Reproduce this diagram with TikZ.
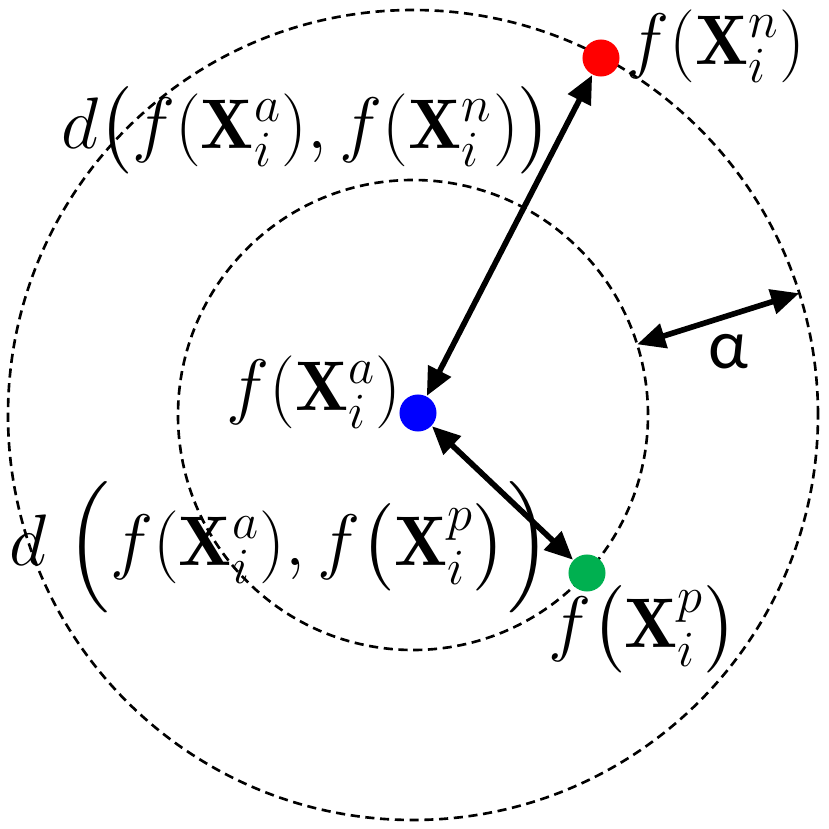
\documentclass[tikz,border=0pt]{standalone}
\usepackage{amsmath}
\usepackage{exscale}
\usepackage{fontspec}
\newfontfamily\greekfont{Carlito}
\usetikzlibrary{arrows.meta,calc}
\definecolor{posgreen}{RGB}{0,176,80}
\begin{document}
\begin{tikzpicture}[x=0.01cm,y=0.01cm,
    ring/.style={dash pattern=on 2.6pt off 1.6pt, line width=0.75pt},
    dot/.style={circle, inner sep=0pt, minimum size=0.37cm},
    link/.style={line width=1.6pt, {Triangle[length=8pt,width=7pt]}-{Triangle[length=8pt,width=7pt]}},
    lbl/.style={font=\fontsize{20}{22}\selectfont, inner sep=0pt}]
    \useasboundingbox (0,0) rectangle (829,829);
    \coordinate (c) at (413,414);
    \draw[ring] (c) circle (405);
    \draw[ring] (c) circle (235);
    % points
    \node[dot, fill=blue] (anc) at (418,416) {};
    \node[dot, fill=red] (neg) at (601,771) {};
    \node[dot, fill=posgreen] (pos) at (587,256) {};
    % margin
    \coordinate (inr) at ($(c)+(17.5:235)$);
    \coordinate (outr) at ($(c)+(17.5:405)$);
    \draw[link] (anc) -- (neg);
    \draw[link] (anc) -- (pos);
    \draw[link] (inr) -- (outr);
    % labels
    \node[lbl] (negl) at (716,783) {$f(\mathbf{X}_i^n)$};
    \node[lbl] (dan) at (307,699) {$d\big(f(\mathbf{X}_i^a),f(\mathbf{X}_i^n)\big)$};
    \node[lbl] (ancl) at (314,437) {$f(\mathbf{X}_i^a)$};
    \node[lbl] (dap) at (280,282) {$d\;\Big(f(\mathbf{X}_i^a),f\big(\mathbf{X}_i^p\big)\Big)$};
    \node[lbl] (posl) at (643,200) {$f\big(\mathbf{X}_i^p\big)$};
    \node[lbl] (alph) at (728,477) {\greekfont α};
\end{tikzpicture}
\end{document}
